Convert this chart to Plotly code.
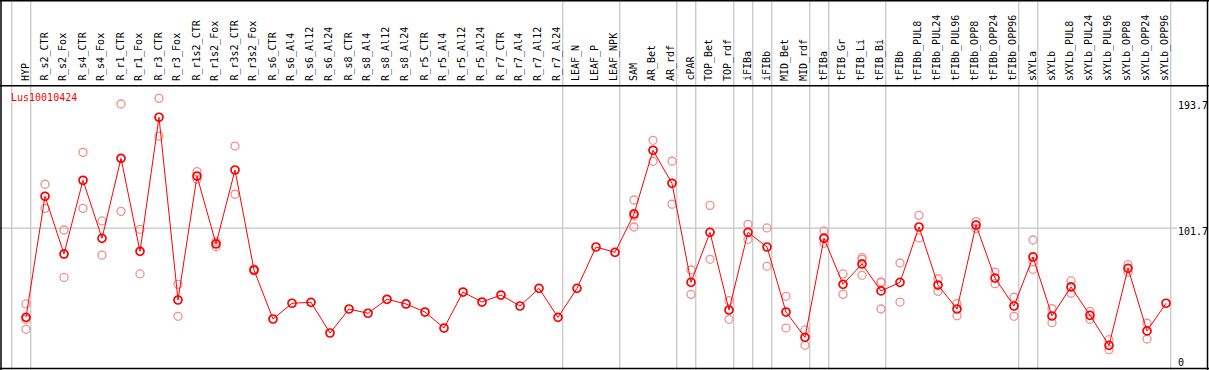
import plotly.graph_objects as go

categories = ["HYP", "R_s2_CTR", "R_s2_Fox", "R_s4_CTR", "R_s4_Fox", "R_r1_CTR", "R_r1_Fox",
              "R_r3_CTR", "R_r3_Fox", "R_r1s2_CTR", "R_r1s2_Fox", "R_r3s2_CTR", "R_r3s2_Fox",
              "R_s6_CTR", "R_s6_Al4", "R_s6_Al12", "R_s6_Al24", "R_s8_CTR", "R_s8_Al4", "R_s8_Al12",
              "R_s8_Al24", "R_r5_CTR", "R_r5_Al4", "R_r5_Al12", "R_r5_Al24", "R_r7_CTR", "R_r7_Al4",
              "R_r7_Al12", "R_r7_Al24", "LEAF_N", "LEAF_P", "LEAF_NPK", "SAM", "AR_Bet", "AR_rdf",
              "cPAR", "TOP_Bet", "TOP_rdf", "iFIBa", "iFIBb", "MID_Bet", "MID_rdf", "tFIBa",
              "tFIB_Gr", "tFIB_Li", "tFIB_Bi", "tFIBb", "tFIBb_PUL8", "tFIBb_PUL24", "tFIBb_PUL96",
              "tFIBb_OPP8", "tFIBb_OPP24", "tFIBb_OPP96", "sXYLa", "sXYLb", "sXYLb_PUL8",
              "sXYLb_PUL24", "sXYLb_PUL96", "sXYLb_OPP8", "sXYLb_OPP24", "sXYLb_OPP96"]

means = [36.6, 125.0, 82.9, 136.7, 94.3, 152.7, 84.8, 182.7, 49.3, 139.8, 90.2, 144.2, 71.2,
         35.4, 46.9, 47.6, 25.2, 42.7, 39.6, 49.8, 46.4, 40.5, 28.8, 55.1, 47.8, 52.9, 44.9,
         57.8, 36.6, 57.8, 88.0, 84.1, 112.1, 158.6, 134.5, 62.2, 98.7, 42.0, 98.7, 88.0,
         40.5, 22.0, 94.3, 60.7, 75.6, 55.9, 62.2, 102.6, 60.2, 42.7, 104.0, 65.3, 44.9,
         80.7, 37.6, 58.8, 38.1, 16.2, 72.4, 26.7, 46.9]

replicates = [
    [46.4, 35.2, 27.9], [133.8, 116.2], [100.4, 65.8], [157.1, 116.2], [107.0, 82.1],
    [192.4, 114.0], [100.9, 68.3], [196.5, 169.0], [60.7, 37.4], [143.0, 137.4],
    [91.9, 88.2], [161.7, 126.5], [72.0, 70.5],
    [], [], [], [], [], [], [], [], [], [], [], [], [], [], [], [], [], [], [],
    [122.3, 110.6, 102.6], [165.9, 150.6], [150.6, 119.2], [71.2, 53.4], [118.4, 79.0],
    [48.8, 35.2], [104.5, 93.6], [101.9, 73.9], [52.0, 28.8], [27.4, 16.2],
    [99.7, 90.7, 95.0], [68.3, 53.4], [80.2, 79.0, 67.3], [61.9, 62.5, 42.7], [76.3, 47.8],
    [111.1, 94.6], [64.8, 55.6], [46.6, 37.8], [106.5, 101.6], [69.7, 61.2], [51.3, 37.4],
    [93.1, 77.3, 71.7], [42.9, 32.7], [63.2, 54.2], [41.0, 35.2], [20.3, 13.0], [75.1, 69.5],
    [32.3, 20.8], [],
]

group_ends = ["HYP", "R_r7_Al24", "LEAF_NPK", "AR_rdf", "cPAR", "TOP_rdf", "iFIBa", "iFIBb",
              "MID_rdf", "tFIBa", "tFIB_Bi", "tFIBb_OPP96", "sXYLa", "sXYLb_OPP96"]

y_ticks = [0, 101.7, 193.7]
y_tick_labels = ["0", "101.7", "193.7"]
gene = "Lus10010424"

W, H = 1209, 370
X0, DX = 26.0, 19.0           # pixel of first column, pixel step
Y0, DY = 367.5, 1.3696        # pixel of value 0, pixels per unit
HEADER = 85.7                 # pixel of header separator

xi = list(range(len(categories)))
x_range = [(0 - X0) / DX, (W - X0) / DX]
y_range = [(Y0 - H) / DY, Y0 / DY]

rx, ry = [], []
for i, reps in enumerate(replicates):
    for v in reps:
        rx.append(i)
        ry.append(v)

fig = go.Figure()
fig.add_trace(go.Scatter(x=rx, y=ry, mode="markers",
                         marker=dict(symbol="circle-open", size=8, color="#EE9090",
                                     line=dict(width=1.3, color="#EE9090")),
                         hoverinfo="skip", showlegend=False))
fig.add_trace(go.Scatter(x=xi, y=means, mode="lines+markers",
                         line=dict(color="#FF0000", width=1),
                         marker=dict(symbol="circle-open", size=8, color="#FF0000",
                                     line=dict(width=1.7, color="#FF0000")),
                         showlegend=False))

shapes = []
grid = dict(color="#C4C4C4", width=1.2)
sep_positions = [-1 + 0.25] + [categories.index(c) + 0.25 for c in group_ends]
for p in sep_positions:
    shapes.append(dict(type="line", xref="x", yref="paper", x0=p, x1=p, y0=0, y1=1,
                       line=grid, layer="below"))
shapes.append(dict(type="line", xref="paper", yref="y", x0=0, x1=1177 / W,
                   y0=y_ticks[1], y1=y_ticks[1], line=grid, layer="below"))
blk = dict(color="black", width=1.5)
shapes.append(dict(type="line", xref="paper", yref="paper", x0=0, x1=1, y0=1 - HEADER / H,
                   y1=1 - HEADER / H, line=blk))
shapes.append(dict(type="line", xref="paper", yref="paper", x0=0, x1=1, y0=1 - 0.75 / H,
                   y1=1 - 0.75 / H, line=blk))
shapes.append(dict(type="line", xref="paper", yref="paper", x0=0, x1=1, y0=1.5 / H,
                   y1=1.5 / H, line=blk))
shapes.append(dict(type="line", xref="paper", yref="paper", x0=1 / W, x1=1 / W, y0=0,
                   y1=1, line=blk))
shapes.append(dict(type="line", xref="paper", yref="paper", x0=1 - 1.5 / W, x1=1 - 1.5 / W,
                   y0=0, y1=1, line=blk))

mono = "DejaVu Sans Mono, monospace"
annotations = []
for i, c in enumerate(categories):
    annotations.append(dict(x=i, y=1 - 83 / H, xref="x", yref="paper", text=c,
                            showarrow=False, textangle=-90, xanchor="center",
                            yanchor="bottom", xshift=-1,
                            font=dict(family=mono, size=10, color="black")))
annotations.append(dict(x=9 / W, y=1 - 97 / H, xref="paper", yref="paper", text=gene,
                        showarrow=False, xanchor="left", yanchor="middle",
                        font=dict(family=mono, size=10, color="#FF0000")))
shifts = [5.2, -3.4, -3.4]
for v, t, s in zip(y_ticks, y_tick_labels, shifts):
    annotations.append(dict(x=1176 / W, y=v, xref="paper", yref="y", text=t,
                            showarrow=False, xanchor="left", yanchor="middle", yshift=s,
                            font=dict(family=mono, size=10, color="black")))

fig.update_layout(width=W, height=H, margin=dict(l=0, r=0, t=0, b=0),
                  paper_bgcolor="white", plot_bgcolor="white",
                  xaxis=dict(range=x_range, visible=False, fixedrange=True),
                  yaxis=dict(range=y_range, visible=False, fixedrange=True),
                  shapes=shapes, annotations=annotations, showlegend=False)

fig.write_html("out.html", config={"displayModeBar": False},
               post_script="document.body.style.margin='0px';document.body.style.overflow='hidden';")
